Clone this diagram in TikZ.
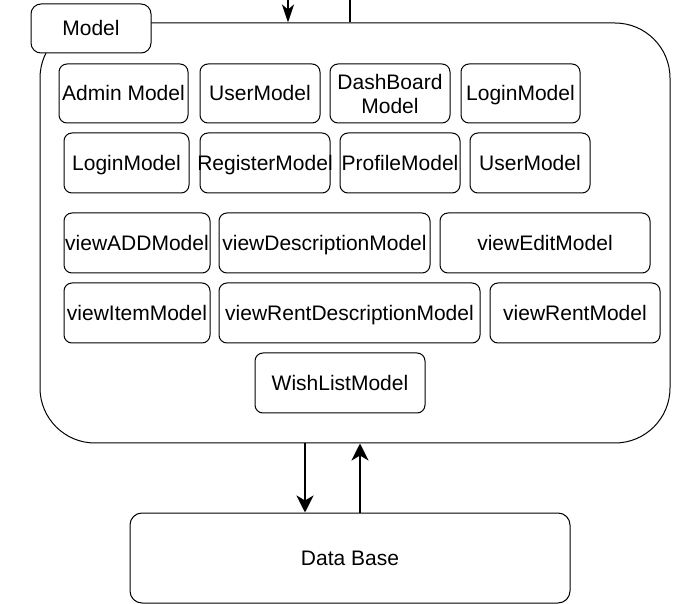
\documentclass[tikz,border=0pt]{standalone}
\usepackage{fontspec}
\setmainfont{Liberation Sans}
\usepackage{tikz}
\usetikzlibrary{
  positioning,
  arrows.meta
}

\tikzset{
  mbox/.style={draw, rounded corners=8pt, inner sep=0pt, fill=white,
    minimum width=#1, minimum height=60pt, text height=17pt, text depth=2pt},
  conn/.style={line width=2.5pt, -{Stealth[length=17pt,width=17pt,inset=5pt]}}
}

\begin{document}
\begin{tikzpicture}[x=1pt, y=-1pt, font=\fontsize{21}{24}\selectfont, line width=1pt]

	\useasboundingbox (0,0) rectangle (681,604);

	% container and tab
	\node[draw, rounded corners=55pt, minimum width=630pt, minimum height=420pt] (modelbox) at (355,233) {};
	\node[mbox=120pt, minimum height=49pt, rounded corners=10pt] (tab) at (91,28.5) {Model};

	% first row
	\node[mbox=129pt, minimum height=59pt] (admin) at (123.5,93.5) {Admin Model};
	\node[mbox=120pt, minimum height=59pt] (usera) at (260,93.5) {UserModel};
	\node[mbox=120pt, minimum height=59pt, align=center, text height=, text depth=] (dash) at (390,93.5) {DashBoard\\Model};
	\node[mbox=119pt, minimum height=59pt] (logina) at (520.5,93.5) {LoginModel};

	% second row
	\node[mbox=125pt] (loginb) at (126.5,163) {LoginModel};
	\node[mbox=130pt, inner xsep=-3pt] (register) at (265,163) {RegisterModel};
	\node[mbox=120pt] (profile) at (400,163) {ProfileModel};
	\node[mbox=120pt] (userb) at (530,163) {UserModel};

	% view models
	\node[mbox=146pt] (viewadd) at (137,243) {viewADDModel};
	\node[mbox=211pt] (viewdesc) at (324.5,243) {viewDescriptionModel};
	\node[mbox=210pt] (viewedit) at (545,243) {viewEditModel};

	\node[mbox=146pt] (viewitem) at (137,313) {viewItemModel};
	\node[mbox=261pt] (viewrentdesc) at (349.5,313) {viewRentDescriptionModel};
	\node[mbox=170pt] (viewrent) at (575,313) {viewRentModel};

	\node[mbox=170pt] (wish) at (340,383) {WishListModel};

	% data base
	\node[mbox=440pt, minimum height=90pt, rounded corners=12pt] (db) at (350,558) {Data Base};

	% connectors
	\coordinate (inx) at (288,0);
	\coordinate (outx) at (350,0);
	\coordinate (dnx) at (305,478);
	\coordinate (upx) at (360,478);

	\draw[conn, line width=2pt, -{Stealth[length=18pt,width=12pt,inset=5pt]}] (inx) -- (inx |- modelbox.north);
	\draw[line width=2.5pt] (outx |- modelbox.north) -- (outx);
	\draw[conn] (dnx |- modelbox.south) -- (dnx |- db.north);
	\draw[conn] (upx |- db.north) -- (upx |- modelbox.south);

\end{tikzpicture}
\end{document}
